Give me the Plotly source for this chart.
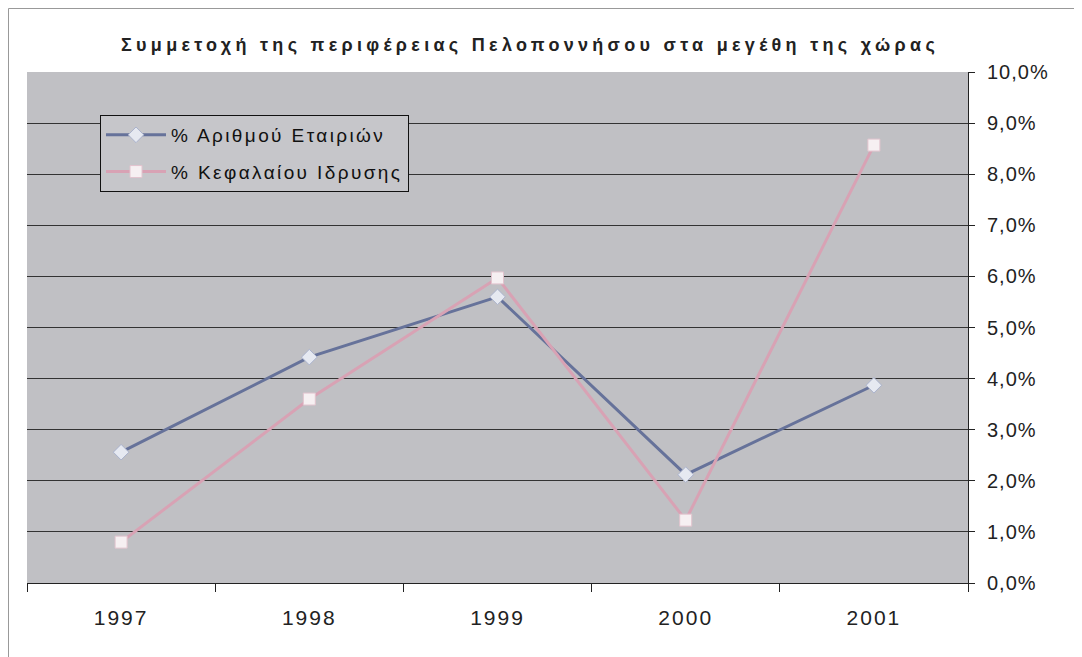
import plotly.graph_objects as go

years = ["1997", "1998", "1999", "2000", "2001"]
firms_pct = [2.56, 4.42, 5.60, 2.12, 3.87]
capital_pct = [0.80, 3.60, 5.97, 1.23, 8.57]
series_names = ["% Αριθμού Εταιριών", "% Κεφαλαίου Ιδρυσης"]
title_text = "Συμμετοχή της περιφέρειας Πελοποννήσου στα μεγέθη της χώρας"
y_ticks = [0, 1, 2, 3, 4, 5, 6, 7, 8, 9, 10]
y_tick_labels = ["0,0%", "1,0%", "2,0%", "3,0%", "4,0%", "5,0%",
                 "6,0%", "7,0%", "8,0%", "9,0%", "10,0%"]

FONT = "Liberation Sans, Arial, sans-serif"


def spaced(s, size, px, bold=False):
    w = "font-weight:bold;" if bold else ""
    return '<span style="%sfont-size:%spx;letter-spacing:%spx">%s</span>' % (w, size, px, s)


# page body has an 8px margin; figure is offset by (8, 8)
L, R, T, B = 19, 122, 64, 82
PW = 1082 - L - R
PH = 657 - T - B

fig = go.Figure()
fig.add_trace(go.Scatter(
    x=years, y=firms_pct, name=spaced(series_names[0], 19, 2.4), mode="lines+markers",
    legendgroup="a",
    line=dict(color="#66729a", width=3),
    marker=dict(symbol="diamond", size=12, color="#e6e9f1",
                line=dict(color="#aab2cc", width=1)),
))
fig.add_trace(go.Scatter(
    x=years, y=capital_pct, name=spaced(series_names[1], 19, 2.4), mode="lines+markers",
    legendgroup="b",
    line=dict(color="#d8a2b4", width=3),
    marker=dict(symbol="square", size=12, color="#f6f0f2",
                line=dict(color="#e2c4ce", width=1)),
))

fig.update_layout(
    width=1082, height=657,
    margin=dict(l=L, r=R, t=T, b=B),
    paper_bgcolor="white",
    plot_bgcolor="#c0c0c4",
    font=dict(family=FONT, size=16, color="#222"),
    title=dict(text=spaced(title_text, 18, 4.3, bold=True), x=(530 - 8 - L) / PW,
               xref="paper", xanchor="center",
               y=1 - (45 - 8) / 657, yanchor="middle",
               font=dict(family=FONT, size=18, color="#222")),
    showlegend=True,
    legend=dict(x=(100 - 8 - L) / PW, y=1 - (115 - 8 - T) / PH,
                xanchor="left", yanchor="top",
                bgcolor="#c6c6ca", bordercolor="#111", borderwidth=1,
                font=dict(family=FONT, size=19, color="#111"),
                itemwidth=60, tracegroupgap=9),
    xaxis=dict(type="category", range=[-0.5, 4.5], tickson="boundaries",
               tickvals=years, ticktext=[spaced(y, 21, 2) for y in years],
               ticks="outside", ticklen=8, tickcolor="#222",
               ticklabelstandoff=16,
               showline=True, linecolor="#222", linewidth=1,
               showgrid=False, tickfont=dict(family=FONT, size=21, color="#222")),
    yaxis=dict(side="right", range=[0, 10], tickvals=y_ticks,
               ticktext=[spaced(t, 20, 1) for t in y_tick_labels],
               ticks="outside", ticklen=6, tickcolor="#222",
               ticklabelstandoff=8,
               showline=True, linecolor="#222", linewidth=1,
               showgrid=True, gridcolor="#333", gridwidth=1,
               zeroline=False,
               tickfont=dict(family=FONT, size=20, color="#222")),
    shapes=[
        dict(type="line", xref="paper", yref="paper",
             x0=-(L - 0.5) / PW, x1=1.2, y0=1 + (T - 0.5) / PH, y1=1 + (T - 0.5) / PH,
             line=dict(color="#999", width=1)),
        dict(type="line", xref="paper", yref="paper",
             x0=-(L - 0.5) / PW, x1=-(L - 0.5) / PW, y0=1 + (T - 0.5) / PH, y1=-B / PH,
             line=dict(color="#999", width=1)),
    ],
)

fig.write_html("out.html")
